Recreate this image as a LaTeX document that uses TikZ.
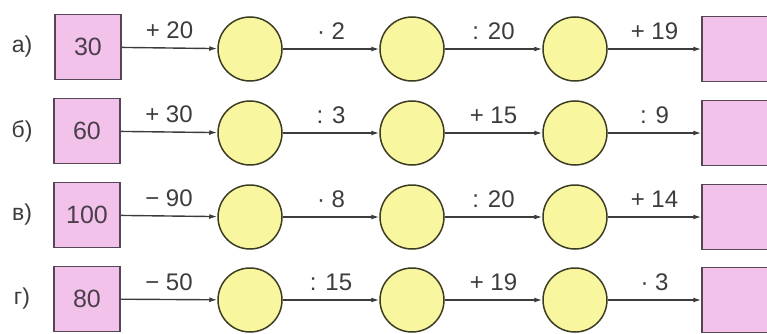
\documentclass[tikz,border=0pt]{standalone}
\usepackage{fontspec}
\setmainfont{Liberation Sans}
\usepackage{tikz}
\usetikzlibrary{positioning, arrows.meta}

\definecolor{boxpink}{RGB}{242,194,234}
\definecolor{boxline}{RGB}{85,70,85}
\definecolor{ringyellow}{RGB}{249,246,160}
\definecolor{ringline}{RGB}{60,60,35}
\definecolor{inkgray}{RGB}{60,60,60}

\begin{document}
\begin{tikzpicture}[x=1pt, y=-1pt,
		numbox/.style={draw=boxline, line width=1.5pt, fill=boxpink, minimum width=66pt, minimum height=65pt, inner sep=0pt, text=boxline!90!black, font=\fontsize{25}{27}\selectfont},
		ring/.style={circle, draw=ringline, line width=1.5pt, fill=ringyellow, minimum size=64pt, inner sep=0pt},
		rowlabel/.style={text=inkgray, font=\fontsize{23}{25}\selectfont},
		op/.style={above=5pt, text=inkgray, font=\fontsize{24}{26}\selectfont},
		arr/.style={draw=inkgray, line width=1.4pt, -{Latex[length=8pt, width=5pt]}}]
	\useasboundingbox (0,0) rectangle (767,334);

	% row a
	\node[rowlabel] (la) at (22,47) {а)};
	\node[numbox] (sa) at (88,47) {30};
	\node[ring] (a1) at (250,49) {};
	\node[ring] (a2) at (412,49) {};
	\node[ring] (a3) at (575,49) {};
	\node[numbox] (ea) at (735,49) {};
	\draw[arr] (sa) -- node[op] {+ 20} (a1);
	\draw[arr] (a1) -- node[op] {· 2} (a2);
	\draw[arr] (a2) -- node[op] {: 20} (a3);
	\draw[arr] (a3) -- node[op] {+ 19} (ea);

	% row b
	\node[rowlabel] (lb) at (22,131) {б)};
	\node[numbox] (sb) at (87,131) {60};
	\node[ring] (b1) at (250,133) {};
	\node[ring] (b2) at (412,133) {};
	\node[ring] (b3) at (575,133) {};
	\node[numbox] (eb) at (735,133) {};
	\draw[arr] (sb) -- node[op] {+ 30} (b1);
	\draw[arr] (b1) -- node[op] {: 3} (b2);
	\draw[arr] (b2) -- node[op] {+ 15} (b3);
	\draw[arr] (b3) -- node[op] {: 9} (eb);

	% row c
	\node[rowlabel] (lc) at (22,215) {в)};
	\node[numbox] (sc) at (87,215) {100};
	\node[ring] (c1) at (250,217) {};
	\node[ring] (c2) at (412,217) {};
	\node[ring] (c3) at (575,217) {};
	\node[numbox] (ec) at (735,217) {};
	\draw[arr] (sc) -- node[op] {− 90} (c1);
	\draw[arr] (c1) -- node[op] {· 8} (c2);
	\draw[arr] (c2) -- node[op] {: 20} (c3);
	\draw[arr] (c3) -- node[op] {+ 14} (ec);

	% row d
	\node[rowlabel] (ld) at (22,299) {г)};
	\node[numbox] (sd) at (87,299) {80};
	\node[ring] (d1) at (250,300) {};
	\node[ring] (d2) at (412,300) {};
	\node[ring] (d3) at (575,300) {};
	\node[numbox] (ed) at (735,300) {};
	\draw[arr] (sd) -- node[op] {− 50} (d1);
	\draw[arr] (d1) -- node[op] {: 15} (d2);
	\draw[arr] (d2) -- node[op] {+ 19} (d3);
	\draw[arr] (d3) -- node[op] {· 3} (ed);
\end{tikzpicture}
\end{document}
